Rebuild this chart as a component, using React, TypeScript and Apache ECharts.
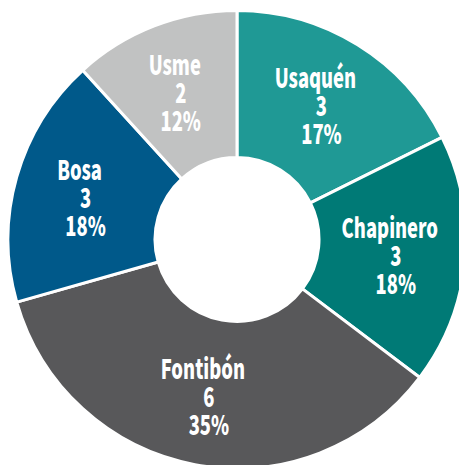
import React, { useEffect, useRef } from "react";
import * as echarts from "echarts";

const categories = ["Usaquén", "Chapinero", "Fontibón", "Bosa", "Usme"];
const values = [3, 3, 6, 3, 2];
const percentLabels = ["17%", "18%", "35%", "18%", "12%"];
const colors = ["#1f9995", "#007a76", "#58585a", "#00598a", "#c1c2c2"];

const CONDENSE = 0.68;
const FONT = "'Noto Sans CJK SC', 'Noto Sans', sans-serif";

export default function App() {
  const ref = useRef<HTMLDivElement>(null);
  useEffect(() => {
    if (!ref.current) return;
    const el = ref.current;
    const chart = echarts.init(el, null, { renderer: "svg" });
    const condense = () => {
      el.querySelectorAll("text").forEach((t: any) => {
        if (t.getAttribute("data-cond")) return;
        const w = t.getComputedTextLength();
        if (w > 0) {
          t.setAttribute("textLength", String(w * CONDENSE));
          t.setAttribute("lengthAdjust", "spacingAndGlyphs");
          t.setAttribute("data-cond", "1");
        }
      });
    };
    chart.on("finished", condense);
    const txt = {
      color: "#ffffff",
      fontFamily: FONT,
      fontWeight: 900,
      fontSize: 27,
      lineHeight: 28,
      align: "center" as const,
    };
    chart.setOption({
      animation: false,
      backgroundColor: "#ffffff",
      series: [
        {
          type: "pie",
          center: [237, 239.5],
          radius: [82, 229],
          startAngle: 90,
          clockwise: true,
          avoidLabelOverlap: false,
          itemStyle: { borderColor: "#ffffff", borderWidth: 3 },
          label: {
            show: true,
            position: "inside",
            ...txt,
            formatter: (p: any) =>
              `{n|${p.name}}\n{v|${p.value}}\n{v|${percentLabels[p.dataIndex]}}`,
            rich: {
              n: { ...txt, padding: [0, 10, 0, 0] },
              v: { ...txt, padding: [0, 0, 0, 2] },
            },
          },
          labelLine: { show: false },
          emphasis: { disabled: true },
          data: categories.map((name, i) => ({
            name,
            value: values[i],
            itemStyle: { color: colors[i] },
          })),
        },
      ],
    });
    condense();
    const raf = requestAnimationFrame(condense);
    return () => {
      cancelAnimationFrame(raf);
      chart.dispose();
    };
  }, []);
  return (
    <div
      ref={ref}
      style={{ position: "fixed", left: 0, top: 0, width: 459, height: 465 }}
    />
  );
}
